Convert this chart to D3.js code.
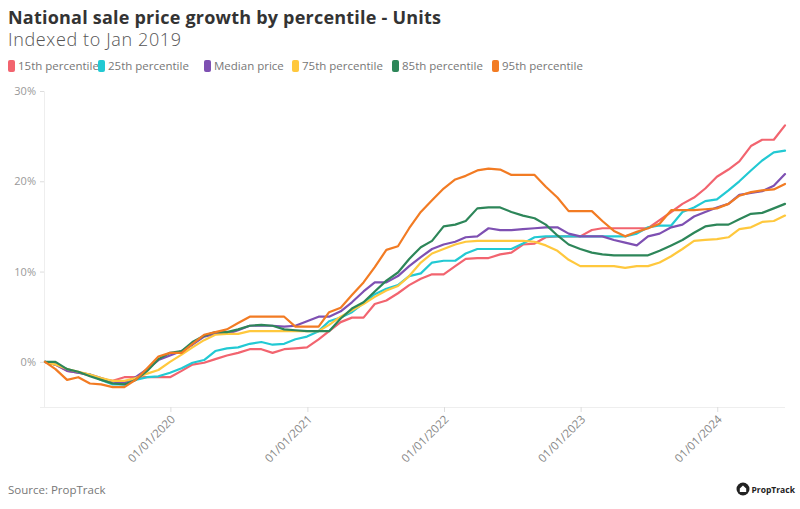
<!DOCTYPE html>
<html>
<head>
<meta charset="utf-8">
<script src="https://cdn.jsdelivr.net/npm/d3@7/dist/d3.min.js"></script>
<style>
  html, body { margin: 0; padding: 0; background: #fff; }
  svg { display: block; font-family: "Open Sans", "Noto Sans", sans-serif; }
</style>
</head>
<body>
<svg id="chart" width="800" height="509"></svg>
<script>
// ---- Data (monthly, Jan 2019 – Jun 2024, % growth indexed to Jan 2019) ----
const startMonth = "2019-01";
const monthCount = 66;
const seriesNames = ["15th percentile", "25th percentile", "Median price", "75th percentile", "85th percentile", "95th percentile"];
const seriesColors = ["#F2646F", "#22C9D3", "#7E50B2", "#FFC83D", "#2D8659", "#F27B23"];

const p15 = [0, -0.3, -1.0, -1.2, -1.5, -1.9, -2.1, -1.7, -1.7, -1.7, -1.7, -1.7,
  -1.0, -0.3, -0.1, 0.3, 0.7, 1.0, 1.4, 1.4, 1.0, 1.4, 1.5, 1.6,
  2.5, 3.4, 4.4, 4.9, 4.9, 6.4, 6.8, 7.6, 8.5, 9.2, 9.7, 9.7,
  10.6, 11.4, 11.5, 11.5, 11.9, 12.1, 13.0, 13.1, 13.8, 13.9, 13.9, 13.9,
  14.6, 14.8, 14.8, 14.8, 14.8, 14.8, 15.7, 16.6, 17.5, 18.2, 19.2, 20.5,
  21.3, 22.2, 23.9, 24.6, 24.6, 26.2];
const p25 = [0, -0.3, -0.8, -1.2, -1.4, -2.0, -2.5, -2.5, -2.0, -1.7, -1.6, -1.2,
  -0.7, -0.1, 0.2, 1.2, 1.5, 1.6, 2.0, 2.2, 1.9, 2.0, 2.5, 2.8,
  3.4, 4.5, 4.9, 5.5, 6.5, 7.5, 8.1, 8.5, 9.5, 9.8, 11.0, 11.2,
  11.2, 12.0, 12.5, 12.5, 12.5, 12.5, 13.1, 13.8, 13.9, 13.9, 13.9, 13.9,
  13.9, 13.9, 13.9, 13.9, 14.2, 14.9, 15.1, 15.1, 16.6, 17.1, 17.8, 18.0,
  19.0, 20.0, 21.2, 22.3, 23.2, 23.4];
const median = [0, -0.3, -1.0, -1.2, -1.4, -1.8, -2.2, -2.3, -1.7, -0.8, 0.2, 0.7,
  1.2, 1.9, 2.8, 3.1, 3.1, 3.5, 4.0, 4.0, 4.0, 3.9, 4.0, 4.5,
  5.0, 5.0, 5.6, 6.6, 7.8, 8.8, 8.8, 9.5, 10.6, 11.6, 12.5, 13.0,
  13.3, 13.8, 13.9, 14.8, 14.6, 14.6, 14.7, 14.8, 14.9, 14.9, 14.2, 13.9,
  13.9, 13.9, 13.5, 13.2, 12.9, 13.9, 14.2, 14.9, 15.2, 16.1, 16.6, 17.1,
  17.5, 18.5, 18.7, 18.9, 19.5, 20.8];
const p75 = [0, -0.3, -0.8, -1.1, -1.4, -1.8, -2.1, -2.1, -1.8, -1.3, -0.9, 0.0,
  0.8, 1.6, 2.4, 3.0, 3.1, 3.1, 3.4, 3.4, 3.4, 3.4, 3.4, 3.4,
  3.4, 4.1, 5.0, 5.7, 6.4, 7.2, 7.9, 8.4, 9.5, 11.0, 12.0, 12.5,
  13.0, 13.3, 13.4, 13.4, 13.4, 13.4, 13.4, 13.3, 12.9, 12.3, 11.3, 10.6,
  10.6, 10.6, 10.6, 10.4, 10.6, 10.6, 11.0, 11.7, 12.5, 13.4, 13.5, 13.6,
  13.8, 14.7, 14.9, 15.5, 15.6, 16.2];
const p85 = [0, 0, -0.8, -1.1, -1.6, -2.0, -2.4, -2.5, -2.0, -1.0, 0.3, 1.0,
  1.2, 2.2, 2.9, 3.3, 3.3, 3.6, 4.0, 4.1, 4.0, 3.6, 3.5, 3.4,
  3.4, 3.4, 4.8, 5.9, 6.6, 7.8, 9.0, 9.9, 11.4, 12.7, 13.4, 15.0,
  15.2, 15.6, 17.0, 17.1, 17.1, 16.6, 16.2, 15.9, 15.2, 14.0, 13.0, 12.5,
  12.1, 11.9, 11.8, 11.8, 11.8, 11.8, 12.3, 12.9, 13.5, 14.3, 15.0, 15.2,
  15.2, 15.8, 16.4, 16.5, 17.0, 17.5];
const p95 = [0, -0.8, -2.0, -1.7, -2.4, -2.5, -2.8, -2.8, -2.0, -0.7, 0.6, 1.0,
  1.0, 2.0, 3.0, 3.3, 3.6, 4.3, 5.0, 5.0, 5.0, 5.0, 3.9, 3.9,
  3.9, 5.5, 6.0, 7.4, 8.8, 10.5, 12.4, 12.8, 14.8, 16.6, 17.9, 19.2,
  20.2, 20.6, 21.2, 21.4, 21.3, 20.7, 20.7, 20.7, 19.4, 18.2, 16.7, 16.7,
  16.7, 15.6, 14.5, 13.9, 14.4, 14.8, 15.3, 16.8, 16.8, 16.8, 16.9, 17.0,
  17.5, 18.4, 18.8, 19.0, 19.1, 19.7];
const seriesValues = [p15, p25, median, p75, p85, p95];

const yTicks = [0, 10, 20, 30];
const xTickYears = [2020, 2021, 2022, 2023, 2024];

// ---- Layout ----
const svg = d3.select("#chart");
const W = 800, H = 509;
const m = { left: 45, right: 15, top: 91, bottom: 102 };

// month-end dates
const start = d3.utcParse("%Y-%m")(startMonth);
const dates = d3.range(monthCount).map(i => d3.utcDay.offset(d3.utcMonth.offset(start, i + 1), -1));

const x = d3.scaleUtc().domain([dates[0], dates[dates.length - 1]]).range([m.left, W - m.right]);
const y = d3.scaleLinear().domain([-5, 30]).range([H - m.bottom, m.top]);

// Title
svg.append("text").attr("x", 8).attr("y", 24)
  .attr("font-size", 18).attr("font-weight", 700).attr("fill", "#333")
  .attr("textLength", 433).attr("lengthAdjust", "spacing")
  .text("National sale price growth by percentile - Units");
svg.append("text").attr("x", 8).attr("y", 46)
  .attr("font-size", 18).attr("font-weight", 300).attr("fill", "#555")
  .attr("textLength", 173).attr("lengthAdjust", "spacing")
  .text("Indexed to Jan 2019");

// Legend
const legendX = [8, 98, 204, 292, 392, 492];
const lg = svg.append("g");
seriesNames.forEach((n, i) => {
  const g = lg.append("g").attr("transform", `translate(${legendX[i]},60)`);
  g.append("rect").attr("x", 0).attr("y", 0).attr("width", 7).attr("height", 12)
    .attr("rx", 2).attr("fill", seriesColors[i]);
  g.append("text").attr("x", 10).attr("y", 10).attr("font-size", 11.5)
    .attr("fill", "#777").text(n);
});

// Axes
const yAxis = d3.axisLeft(y).tickValues(yTicks).tickSize(4).tickPadding(4).tickFormat(d => d + "%");
const gy = svg.append("g").attr("transform", `translate(${m.left - 1},0)`).call(yAxis);
gy.select(".domain").attr("stroke", "#eee");
gy.selectAll(".tick line").attr("stroke", "#ddd");
gy.selectAll(".tick text").attr("fill", "#999").attr("font-size", 11)
  .attr("font-family", "'Open Sans', sans-serif");

const xAxis = d3.axisBottom(x)
  .tickValues(xTickYears.map(yr => new Date(Date.UTC(yr, 0, 1))))
  .tickSize(5).tickFormat(d3.utcFormat("%d/%m/%Y"));
const gx = svg.append("g").attr("transform", `translate(0,${H - m.bottom})`).call(xAxis);
gx.select(".domain").attr("stroke", "#eee").attr("d", `M${m.left - 1},0.5H${W - m.right}`);
gx.selectAll(".tick line").attr("stroke", "#ddd");
gx.selectAll(".tick text")
  .attr("fill", "#888").attr("font-size", 11.5).attr("font-family", "'Open Sans', sans-serif")
  .attr("text-anchor", "end").attr("dy", 0).attr("y", 0)
  .attr("transform", "translate(5,13) rotate(-45)");

// Lines
const line = d3.line().x((d, i) => x(dates[i])).y(d => y(d));
seriesValues.forEach((vals, i) => {
  svg.append("path").datum(vals)
    .attr("fill", "none").attr("stroke", seriesColors[i])
    .attr("stroke-width", 2.2).attr("stroke-linejoin", "round").attr("stroke-linecap", "round")
    .attr("d", line);
});

// Source
svg.append("text").attr("x", 8).attr("y", 494).attr("font-size", 11.5).attr("fill", "#777")
  .text("Source: PropTrack");

// Logo
const logo = svg.append("g").attr("transform", "translate(743,489)");
logo.append("circle").attr("cx", 0).attr("cy", 0).attr("r", 6.5).attr("fill", "#222");
logo.append("path").attr("d", "M-3.2,3 V-0.5 L0,-3.4 L3.2,-0.5 V3 Z").attr("fill", "#fff");
logo.append("text").attr("x", 8.5).attr("y", 3.5).attr("font-size", 8.5).attr("font-weight", 700)
  .attr("fill", "#222").text("PropTrack");
</script>
</body>
</html>
